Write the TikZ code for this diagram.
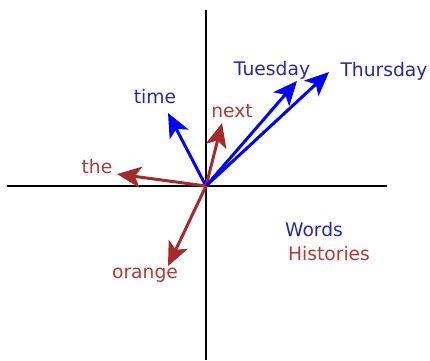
\documentclass[tikz,border=0pt]{standalone}
\usepackage{fontspec}
\setmainfont{DejaVu Sans}
\usetikzlibrary{arrows.meta}
\definecolor{arrowblue}{RGB}{0,0,255}
\definecolor{arrowred}{RGB}{165,42,42}
\definecolor{textblue}{RGB}{40,40,170}
\definecolor{textred}{RGB}{178,58,58}
\tikzset{
  axis/.style={line width=2.2pt,black},
  vec/.style={line width=3pt,-{Stealth[length=24pt,width=21pt,inset=6pt]}},
  bluevec/.style={vec,arrowblue},
  redvec/.style={vec,arrowred},
  lbl/.style={anchor=base,inner sep=0pt,font=\fontsize{18.7}{20}\selectfont},
  bluelbl/.style={lbl,text=textblue},
  redlbl/.style={lbl,text=textred}
}
\begin{document}
\begin{tikzpicture}[x=1pt,y=-1pt]
\useasboundingbox (0,0) rectangle (430,360);
\coordinate (O) at (206,186);
\coordinate (xl) at (7,186);
\coordinate (xr) at (387,186);
\coordinate (yt) at (206,10);
\coordinate (yb) at (206,360);
\draw[axis] (xl) -- (xr);
\draw[axis] (yt) -- (yb);
\coordinate (ttime) at (168,113);
\coordinate (tnext) at (222,123);
\coordinate (ttue) at (297,81);
\coordinate (tthu) at (329,72);
\coordinate (tthe) at (117,174);
\coordinate (tora) at (168,266);
\draw[bluevec] (O) -- (ttime);
\draw[redvec] (O) -- (tnext);
\draw[bluevec] (O) -- (ttue);
\draw[bluevec] (O) -- (tthu);
\draw[redvec] (O) -- (tthe);
\draw[redvec] (O) -- (tora);
\node[bluelbl] (ltime) at (155,103) {time};
\node[redlbl] (lnext) at (232,117) {next};
\node[bluelbl] (ltue) at (272,75) {Tuesday};
\node[bluelbl] (lthu) at (384,76) {Thursday};
\node[redlbl] (lthe) at (97,173) {the};
\node[redlbl] (lora) at (145,278) {orange};
\node[bluelbl] (lwords) at (314,236) {Words};
\node[redlbl] (lhist) at (329,260) {Histories};
\end{tikzpicture}
\end{document}
